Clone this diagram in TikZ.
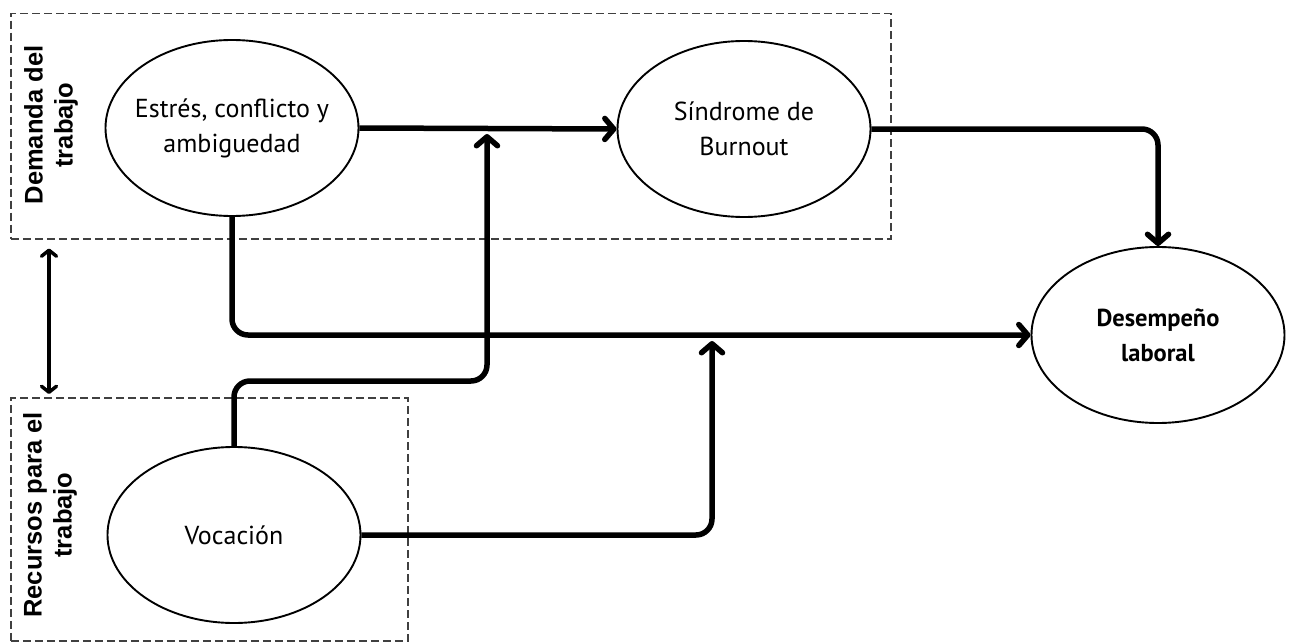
\documentclass[tikz,border=0pt]{standalone}
\usepackage{fontspec}
\setmainfont{Liberation Sans}
\newfontfamily\ovalfont{PT Sans}
\usetikzlibrary{arrows.meta,shapes.geometric,calc}

\tikzset{
  oval/.style={ellipse, draw=black, line width=1.9pt, fill=white,
    minimum width=253pt, minimum height=176pt, inner sep=0pt},
  ovaltext/.style={align=center, inner sep=0pt,
    font=\ovalfont\fontsize{26}{35}\selectfont},
  ovalbold/.style={ovaltext, font=\ovalfont\fontsize{24.5}{35}\selectfont\bfseries},
  groupbox/.style={draw=black!75, dash pattern=on 8pt off 4pt,
    line width=1.5pt, anchor=north west, inner sep=0pt},
  sidelbl/.style={align=center, rotate=90, inner sep=0pt,
    font=\fontsize{25.5}{30}\selectfont\bfseries},
  conn/.style={line width=5.5pt, rounded corners=16pt,
    -{Straight Barb[length=9pt,width=21pt,line cap=round,line join=round]}},
  link/.style={line width=3.5pt,
    {Straight Barb[length=6pt,width=15pt,line cap=round,line join=round]}-{Straight Barb[length=6pt,width=15pt,line cap=round,line join=round]}}
}

\begin{document}
\begin{tikzpicture}[x=1pt,y=-1pt]
  \useasboundingbox (0,0) rectangle (1291,642);

  % dashed group frames
  \node[groupbox, minimum width=880pt, minimum height=225pt] (dem) at (10,13) {};
  \node[groupbox, minimum width=397pt, minimum height=243pt] (rec) at (10,397) {};

  % group labels
  \node[sidelbl] (demlbl) at (51,125) {Demanda del\\trabajo};
  \node[sidelbl] (reclbl) at (50,515) {Recursos para el\\trabajo};

  % variables
  \node[oval] (est) at (232,128) {};
  \node[ovaltext] (esttxt) at (est) {Estrés, conflicto y\\ambiguedad};
  \node[oval] (syn) at (744,129) {};
  \node[ovaltext] (syntxt) at (syn) {Síndrome de\\Burnout};
  \node[oval] (des) at (1158,335) {};
  \node[ovalbold] (destxt) at (des) {Desempeño\\laboral};
  \node[oval] (voc) at (234,535) {};
  \node[ovaltext] (voctxt) at (voc) {Vocación};

  % junction points where moderating paths meet
  \coordinate (k1) at (487,381);
  \coordinate (j1) at (487,134);
  \coordinate (j2) at (712,341);

  % relations
  \draw[conn] (est.east) -- (syn.west);
  \draw[conn] (syn.east) -| (des.north);
  \draw[conn] (est.south) |- (des.west);
  \draw[conn] (voc.north) |- (k1) -- (j1);
  \draw[conn] (voc.east) -| (j2);

  % link between the two groups
  \coordinate (d1) at ($(dem.south west)+(39,9)$);
  \coordinate (d2) at ($(rec.north west)+(39,-3)$);
  \draw[link] (d1) -- (d2);
\end{tikzpicture}
\end{document}
